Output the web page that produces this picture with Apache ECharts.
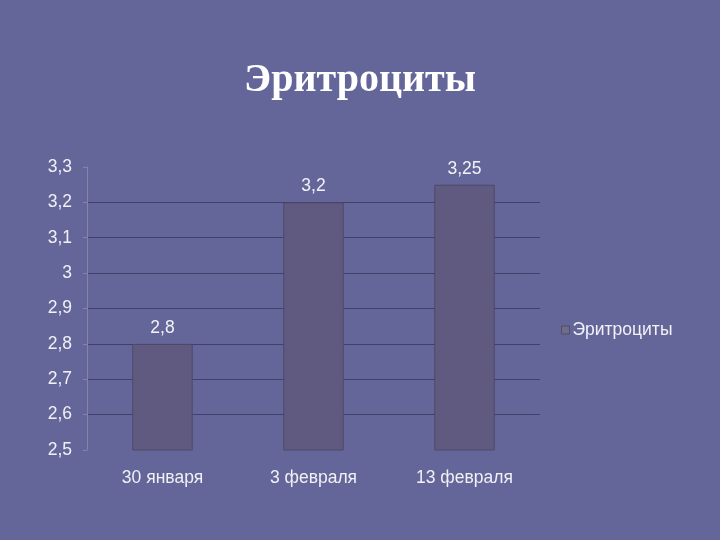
<!DOCTYPE html>
<html><head><meta charset="utf-8">
<script src="https://cdn.jsdelivr.net/npm/echarts@6/dist/echarts.min.js"></script>
<style>html,body{margin:0;padding:0;background:#64669a;}#c{width:720px;height:540px;}</style>
</head><body><div id="c"></div>
<script>
const categories = ['30 января', '3 февраля', '13 февраля'];
const values = [2.8, 3.2, 3.25];
const seriesName = 'Эритроциты';
const titleText = 'Эритроциты';

const fmt = v => String(v).replace('.', ',');
const chart = echarts.init(document.getElementById('c'));
chart.setOption({
  backgroundColor: '#64669a',
  animation: false,
  title: {
    text: titleText, left: 'center', top: 56,
    textStyle: { fontFamily: 'Liberation Serif', fontWeight: 'bold', fontSize: 40, color: '#ffffff' }
  },
  legend: {
    data: [seriesName], left: 556, top: 316, orient: 'vertical',
    itemWidth: 8, itemHeight: 8, itemGap: 4,
    icon: 'rect',
    itemStyle: { color: '#6e6c88', borderColor: '#4e4c68', borderWidth: 1 },
    textStyle: { fontFamily: 'Liberation Sans', fontSize: 17.5, color: '#f2f2f6', padding: [0, 0, 0, -2] }
  },
  grid: { left: 87, right: 180, top: 167, bottom: 90 },
  xAxis: {
    type: 'category', data: categories,
    axisLine: { show: false }, axisTick: { show: false },
    axisLabel: { fontFamily: 'Liberation Sans', fontSize: 17.5, color: '#f0f0f5', margin: 19 }
  },
  yAxis: {
    type: 'value', min: 2.5, max: 3.3, interval: 0.1,
    axisLine: { show: true, lineStyle: { color: '#8284a8', width: 1 } },
    axisTick: { show: true, length: 4, lineStyle: { color: '#8284a8' } },
    axisLabel: { fontFamily: 'Liberation Sans', fontSize: 17.5, color: '#f0f0f5', margin: 15,
      formatter: v => fmt(Math.round(v * 10) / 10) },
    splitLine: { show: true, showMinLine: false, showMaxLine: false, lineStyle: { color: '#40406a', width: 1 } }
  },
  series: [{
    name: seriesName, type: 'bar', data: values, barWidth: '40%',
    itemStyle: { color: '#605a80', borderColor: '#4e4868', borderWidth: 1 },
    label: { show: true, position: 'top', distance: 7, fontFamily: 'Liberation Sans', fontSize: 17.5,
      color: '#f2f2f6', formatter: p => fmt(p.value) }
  }]
});
</script></body></html>
